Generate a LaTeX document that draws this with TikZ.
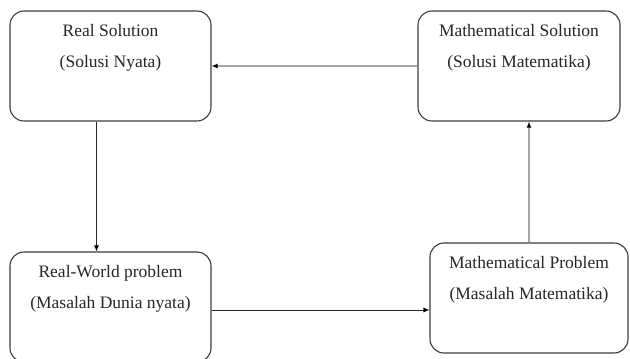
\documentclass[tikz,border=0pt]{standalone}
\usepackage{fontspec}
\setmainfont{Liberation Serif}
\usepackage{tikz}
\usetikzlibrary{arrows.meta, positioning, calc}
\definecolor{boxline}{RGB}{60, 60, 60}
\definecolor{linkdark}{RGB}{40, 40, 40}
\definecolor{linkgray}{RGB}{165, 165, 165}

\tikzset{
    stagebox/.style={draw=boxline, line width=1.1pt, rounded corners=14pt, align=center,
        minimum width=201pt, minimum height=110pt, inner sep=0pt,
        font=\fontsize{17.5}{31}\selectfont, text=black!85},
    link/.style={line width=0.9pt, -{Latex[length=6pt, width=5pt, black]}}
}

\begin{document}
\begin{tikzpicture}[x=1pt, y=1pt]
    % Page frame
    \useasboundingbox (0, 0) rectangle (630, 359);
    \clip (0, 0) rectangle (630, 359);

    % Stages
    \node[stagebox] (realsol) at (110.5, 293) {Real Solution\\(Solusi Nyata)\\\strut};
    \node[stagebox, minimum width=202pt] (mathsol) at (519, 293) {Mathematical Solution\\(Solusi Matematika)\\\strut};
    \node[stagebox] (realprob) at (110.5, 52) {Real-World problem\\(Masalah Dunia nyata)\\\strut};
    \node[stagebox, minimum width=198pt] (mathprob) at (529, 61) {Mathematical Problem\\(Masalah Matematika)\\\strut};

    % Cycle
    \draw[link, linkdark] ([xshift=-14pt]realsol.south) -- ([xshift=-14pt]realsol.south |- realprob.north);
    \draw[link, linkdark] ([yshift=-3pt]realprob.east) -- ([yshift=-3pt]realprob.east -| mathprob.west);
    \draw[link, linkgray, line width=1.4pt] (mathprob.north) -- (mathprob.north |- mathsol.south);
    \draw[link, linkgray, line width=1.4pt] (mathsol.west) -- (realsol.east);

\end{tikzpicture}
\end{document}
